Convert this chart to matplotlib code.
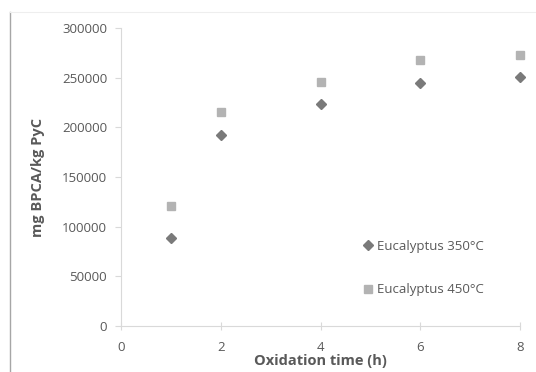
import matplotlib.pyplot as plt
from matplotlib.lines import Line2D

plt.rcParams['font.family'] = ['Open Sans', 'DejaVu Sans']

hours = [1, 2, 4, 6, 8]
euc_350 = [89000, 192000, 223000, 245000, 251000]
euc_450 = [121000, 215000, 246000, 268000, 273000]

txt = '#595959'

fig = plt.figure(figsize=(5.36, 3.72), dpi=100)
ax = fig.add_axes([121/536, 1 - 326/372, 399/536, 298/372])

ax.plot(hours, euc_350, 'D', ms=5, color='#7a7a7a', mec='#7a7a7a',
        label='Eucalyptus 350\u00b0C', clip_on=False)
ax.plot(hours, euc_450, 's', ms=6, color='#b3b3b3', mec='#b3b3b3',
        label='Eucalyptus 450\u00b0C', clip_on=False)

ax.set_xlim(0, 8)
ax.set_ylim(0, 300000)
ax.set_xticks([0, 2, 4, 6, 8])
ax.set_yticks(range(0, 300001, 50000))

for s in ['top', 'right']:
    ax.spines[s].set_visible(False)
for s in ['left', 'bottom']:
    ax.spines[s].set_color('#d9d9d9')
    ax.spines[s].set_linewidth(0.8)

ax.tick_params(axis='y', direction='out', length=4, color='#d9d9d9',
               labelsize=9.5, labelcolor=txt, pad=6)
ax.tick_params(axis='x', direction='inout', length=6, color='#d9d9d9',
               labelsize=9.5, labelcolor=txt, pad=8)

ax.set_xlabel('Oxidation time (h)', fontsize=10.5, fontweight='bold',
              color=txt, labelpad=0)
ax.set_ylabel('mg BPCA/kg PyC', fontsize=10.5, fontweight='bold',
              color=txt, labelpad=12)

ax.legend(loc='center left', bbox_to_anchor=(352/536, 1 - 268/372),
          bbox_transform=fig.transFigure, frameon=False, fontsize=9.5,
          labelspacing=2.3, handlelength=0.6, handletextpad=0.4,
          labelcolor=txt)

# outer chart frame
fig.add_artist(Line2D([10/536, 10/536], [0, 1 - 12/372], color='#a6a6a6', lw=1))
fig.add_artist(Line2D([10/536, 1], [1 - 12/372, 1 - 12/372], color='#eeeeee', lw=0.8))

fig.savefig('out.png', dpi=100)
